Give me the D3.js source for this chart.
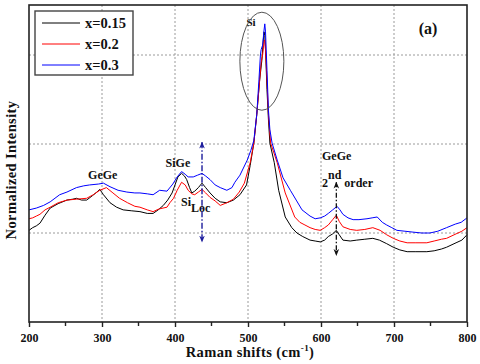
<!DOCTYPE html>
<html><head><meta charset="utf-8">
<script src="https://cdn.jsdelivr.net/npm/d3@7"></script>
<style>body{margin:0;background:#fff}svg{display:block}svg text{font-family:'Liberation Serif','DejaVu Serif',serif !important;font-weight:bold}</style>
</head><body><svg id="c" width="480" height="364"></svg>
<script>
const xTicks=[200,300,400,500,600,700,800];
const seriesNames=["x=0.15","x=0.2","x=0.3"];
const seriesColors=["#000000","#ff0000","#0000ff"];
const shiftBlack=[200,205,210,215,222,229,240,252,260,265,272,279,287,293,297,302,311,320,329,340,352,362,370,377,384,390,396,400,404,409,413,416,420,423,427,432,437,442,448,455,462,471,480,489,498,503,508,512,516,519,521,522,523,524,526,528,530,536,542,551,560,567,575,585,592,599,605,610,616,621,625,630,640,649,660,671,680,690,699,708,718,730,745,755,765,772,785,793,800];
const intBlack=[1.03,1.06,1.08,1.11,1.20,1.28,1.33,1.37,1.38,1.39,1.37,1.37,1.42,1.46,1.49,1.43,1.34,1.29,1.26,1.25,1.24,1.22,1.22,1.26,1.31,1.37,1.45,1.54,1.63,1.67,1.64,1.60,1.51,1.45,1.47,1.51,1.56,1.51,1.45,1.39,1.35,1.34,1.37,1.43,1.54,1.76,2.01,2.33,2.72,2.94,3.17,3.26,3.22,3.06,2.61,2.27,2.01,1.79,1.48,1.18,1.06,1.00,0.96,0.92,0.91,0.90,0.92,0.96,0.99,1.03,0.98,0.92,0.91,0.92,0.93,0.94,0.92,0.88,0.84,0.81,0.79,0.79,0.79,0.80,0.82,0.84,0.89,0.92,0.98];
const shiftRed=[200,205,210,215,222,229,240,252,265,279,288,297,306,315,324,335,345,352,362,370,378,389,393,398,403,409,414,418,423,427,432,437,442,448,455,462,471,480,488,495,503,508,512,516,518,520,522,523,524,526,528,531,540,551,564,571,578,585,592,599,605,610,616,621,625,630,640,649,660,671,681,690,699,708,718,730,745,755,765,772,785,793,800];
const intRed=[1.16,1.17,1.19,1.21,1.26,1.29,1.34,1.37,1.38,1.39,1.43,1.48,1.51,1.45,1.39,1.34,1.30,1.29,1.26,1.24,1.27,1.29,1.34,1.39,1.48,1.57,1.54,1.48,1.44,1.43,1.46,1.49,1.45,1.40,1.36,1.31,1.34,1.38,1.46,1.56,1.79,2.01,2.33,2.72,2.92,3.00,3.15,3.17,3.06,2.72,2.33,2.01,1.79,1.45,1.18,1.12,1.09,1.06,1.04,1.03,1.06,1.09,1.15,1.20,1.13,1.07,1.04,1.03,1.04,1.06,1.03,0.98,0.94,0.91,0.89,0.89,0.89,0.91,0.93,0.94,0.99,1.02,1.06];
const shiftBlue=[200,210,220,229,242,252,265,275,283,295,302,311,322,334,345,352,362,370,379,389,397,403,409,414,418,425,431,437,442,448,455,462,471,478,482,489,499,504,508,512,515,517,518,520,522,523,524,526,528,530,533,540,548,558,566,574,585,592,599,605,610,616,622,626,630,637,644,652,663,670,677,684,690,697,704,715,726,738,749,760,772,784,792,800];
const intBlue=[1.26,1.28,1.31,1.35,1.43,1.46,1.51,1.53,1.54,1.55,1.56,1.52,1.48,1.46,1.45,1.45,1.44,1.43,1.48,1.47,1.55,1.63,1.69,1.66,1.63,1.63,1.65,1.67,1.64,1.60,1.54,1.51,1.48,1.51,1.57,1.65,1.82,1.93,2.04,2.33,2.72,3.00,3.06,3.11,3.28,3.35,3.26,2.83,2.38,2.16,2.01,1.82,1.62,1.48,1.37,1.26,1.19,1.16,1.17,1.19,1.22,1.26,1.30,1.26,1.21,1.17,1.15,1.15,1.16,1.17,1.18,1.12,1.09,1.06,1.03,1.02,1.01,1.00,1.00,1.02,1.06,1.10,1.12,1.17];

const svg=d3.select("#c");
const L=29,R=467,T=5,B=322;
const x=d3.scaleLinear().domain([200,800]).range([L,R]);
const y=d3.scaleLinear().domain([0,(B-T)/89]).range([B,T]);

const g=svg.append("g");
g.selectAll(".vg").data([300,400,500,600,700]).enter().append("line")
 .attr("x1",d=>x(d)).attr("x2",d=>x(d)).attr("y1",T).attr("y2",B)
 .attr("stroke","#9a9a9a").attr("stroke-width",1).attr("stroke-dasharray","2,2");
g.selectAll(".hg").data([1,2,3]).enter().append("line")
 .attr("x1",L).attr("x2",R).attr("y1",d=>y(d)).attr("y2",d=>y(d))
 .attr("stroke","#9a9a9a").attr("stroke-width",1).attr("stroke-dasharray","2,2");

const series=[[shiftBlack,intBlack],[shiftRed,intRed],[shiftBlue,intBlue]];
const line=d3.line().x(d=>x(d[0])).y(d=>y(d[1]));
series.forEach((s,i)=>{
  const pts=s[0].map((v,j)=>[v,s[1][j]]);
  svg.append("path").datum(pts).attr("d",line).attr("fill","none")
   .attr("stroke",seriesColors[i]).attr("stroke-width",1);
});

svg.append("rect").attr("x",L).attr("y",T).attr("width",R-L).attr("height",B-T)
 .attr("fill","none").attr("stroke","#222").attr("stroke-width",1.6);

const ax=svg.append("g").attr("transform",`translate(0,${B})`)
 .call(d3.axisBottom(x).tickValues(xTicks).tickSize(5).tickSizeOuter(0).tickPadding(6).tickFormat(d3.format("d")));
ax.attr("font-family",null);
ax.select(".domain").remove();
ax.selectAll("line").attr("stroke","#222").attr("stroke-width",1.4);
ax.selectAll("text").attr("font-size",12).attr("fill","#111");
const minor=[250,350,450,550,650,750];
svg.selectAll(".mt").data(minor).enter().append("line")
 .attr("x1",d=>x(d)).attr("x2",d=>x(d)).attr("y1",B).attr("y2",B+4)
 .attr("stroke","#222").attr("stroke-width",1.4);

const xt=svg.append("text").attr("x",250).attr("y",357).attr("text-anchor","middle")
 .attr("font-size",14.5).attr("letter-spacing",0.4).attr("fill","#111");
xt.append("tspan").text("Raman shifts (cm");
xt.append("tspan").attr("dy",-6).attr("font-size",9).text("-1");
xt.append("tspan").attr("dy",6).text(")");
svg.append("text").attr("transform","translate(16,170) rotate(-90)").attr("text-anchor","middle")
 .attr("font-size",14.5).attr("letter-spacing",0.4).attr("fill","#111").text("Normalized Intensity");

svg.append("rect").attr("x",35).attr("y",11).attr("width",98).attr("height",64)
 .attr("fill","#fff").attr("stroke","#444").attr("stroke-width",1.4);
seriesNames.forEach((n,i)=>{
  const yy=23+i*21;
  svg.append("line").attr("x1",42).attr("x2",80).attr("y1",yy).attr("y2",yy).attr("stroke",seriesColors[i]).attr("stroke-width",1);
  svg.append("text").attr("x",85).attr("y",yy+5).attr("font-size",14.5).attr("fill","#111").text(n);
});

const ann=(t,cx,cy,fs,anchor)=>svg.append("text").attr("x",cx).attr("y",cy).attr("font-size",fs).attr("fill","#111").attr("text-anchor",anchor||"start").text(t);
ann("(a)",428,34,16,"middle");
ann("GeGe",x(301),179,12,"middle");
ann("SiGe",x(404),167,12,"middle");
const sl=svg.append("text").attr("x",181).attr("y",206).attr("font-size",12).attr("fill","#111");
sl.append("tspan").text("Si");
sl.append("tspan").attr("dy",6).text("Loc");
ann("GeGe",322,160,12,"start");
const so=svg.append("text").attr("x",322).attr("y",187).attr("font-size",12).attr("fill","#111");
so.append("tspan").text("2");
so.append("tspan").attr("dy",-8).attr("font-size",12).text("nd");
so.append("tspan").attr("dy",8).attr("dx",3).text("order");
ann("Si",251,26,11,"middle");

svg.append("ellipse").attr("cx",x(519)).attr("cy",y(2.93)).attr("rx",22).attr("ry",49)
 .attr("fill","none").attr("stroke","#555").attr("stroke-width",1);

const defs=svg.append("defs");
[["ab","#1c1c9c"],["ak","#111"]].forEach(([id,c])=>{
  defs.append("marker").attr("id",id).attr("viewBox","0 0 10 10").attr("refX",9).attr("refY",5)
   .attr("markerWidth",7).attr("markerHeight",7).attr("orient","auto-start-reverse").attr("markerUnits","userSpaceOnUse")
   .append("path").attr("d","M0,1 L10,5 L0,9 L3,5 Z").attr("fill",c);
});
svg.append("line").attr("x1",x(437)).attr("x2",x(437)).attr("y1",y(2.02)).attr("y2",y(0.90))
 .attr("stroke","#1c1c9c").attr("stroke-width",1.4).attr("stroke-dasharray","6,2,1.5,2")
 .attr("marker-start","url(#ab)").attr("marker-end","url(#ab)");
svg.append("line").attr("x1",x(621)).attr("x2",x(621)).attr("y1",y(1.57)).attr("y2",y(0.75))
 .attr("stroke","#111").attr("stroke-width",1.3).attr("stroke-dasharray","5,2,1.5,2")
 .attr("marker-start","url(#ak)").attr("marker-end","url(#ak)");
</script></body></html>
